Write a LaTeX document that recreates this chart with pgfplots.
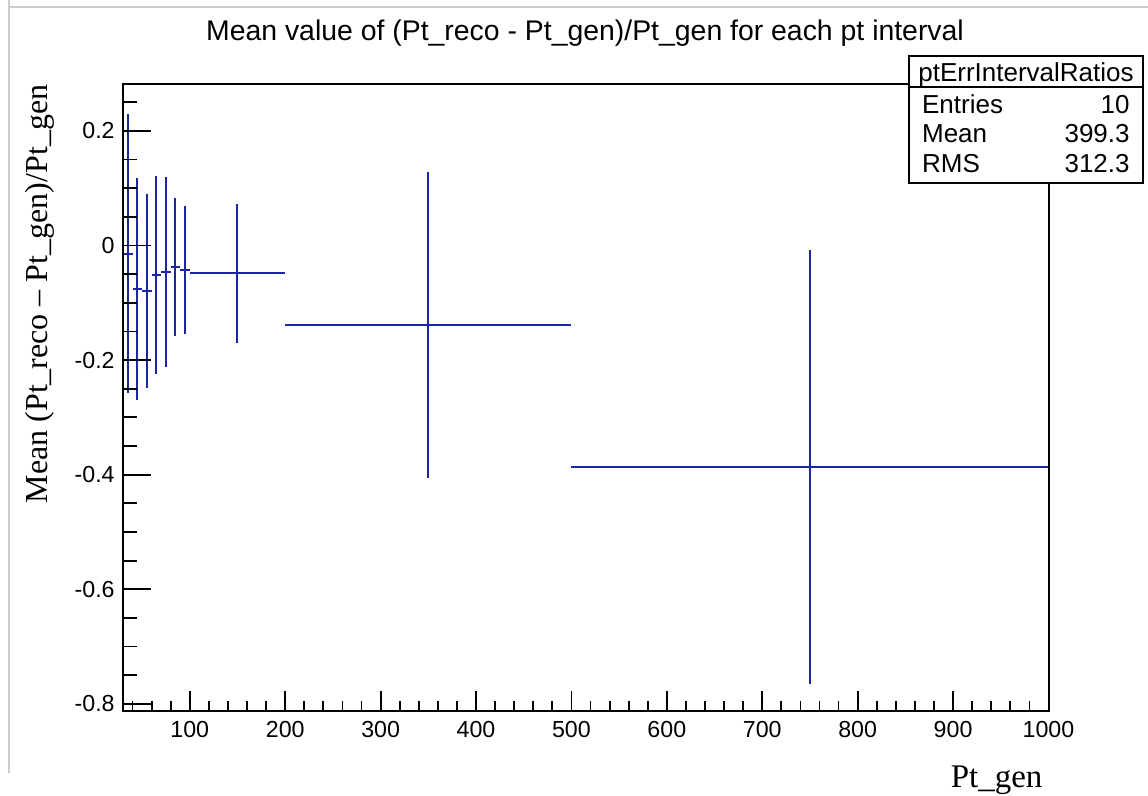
\documentclass[border=0pt]{standalone}
\usepackage{fontspec}
\setmainfont{Liberation Sans}
\newfontfamily\labelfont{Liberation Serif}
\usepackage{pgfplots}
\pgfplotsset{compat=1.18}
\usepackage{pgfplotstable}
\definecolor{rootblue}{RGB}{28,38,160}

\pgfplotstableread{
x ex y ey
35 5 -0.014 0.244
45 5 -0.076 0.193
55 5 -0.079 0.169
65 5 -0.052 0.173
75 5 -0.046 0.166
85 5 -0.0375 0.121
95 5 -0.043 0.112
150 50 -0.0485 0.121
350 150 -0.139 0.267
750 250 -0.386 0.379
}\datatable

\pgfplotsset{
  rootaxis/.style={
    at={(61.5bp,42.15bp)}, anchor=south west,
    scale only axis, width=462.75bp, height=313.6bp,
    xmin=30, xmax=1000, ymin=-0.8119, ymax=0.2827,
    axis line style={line width=1bp, black},
    every tick/.style={black, line width=0.9bp},
    tick align=inside,
    xtick pos=bottom, ytick pos=left,
    clip=false,
  }
}

\begin{document}
\begin{tikzpicture}[x=1bp,y=1bp]
\useasboundingbox (0,0) rectangle (574,397.5);
% canvas border
\draw[black!20, line width=0.6bp] (4.5,397.5) -- (4.5,11);
\draw[black!20, line width=0.6bp] (4.5,394) -- (574,394);

% axis with x ticks and data
\begin{axis}[rootaxis,
  xtick={100,200,...,1000},
  minor xtick={40,60,80,120,140,160,180,220,240,260,280,320,340,360,380,420,440,460,480,520,540,560,580,620,640,660,680,720,740,760,780,820,840,860,880,920,940,960,980},
  xticklabels={100,200,300,400,500,600,700,800,900,1000},
  xticklabel style={font=\fontsize{11.6bp}{13bp}\selectfont, inner sep=0pt, anchor=north, yshift=-5bp},
  ytick=\empty,
  major tick length=10bp, minor tick length=5bp,
]
\addplot[draw=none, no markers,
  error bars/.cd, x dir=both, x explicit, y dir=both, y explicit,
  error mark=none, error bar style={draw=rootblue, line width=1bp, solid}]
  table[x=x, y=y, x error=ex, y error=ey] {\datatable};
\end{axis}

% overlay axis with y ticks
\begin{axis}[rootaxis,
  xtick=\empty,
  ytick={-0.8,-0.6,-0.4,-0.2,0,0.2},
  yticklabels={-0.8,-0.6,-0.4,-0.2,0,0.2},
  minor ytick={-0.75,-0.7,-0.65,-0.55,-0.5,-0.45,-0.35,-0.3,-0.25,-0.15,-0.1,-0.05,0.05,0.1,0.15,0.25},
  yticklabel style={font=\fontsize{11.6bp}{13bp}\selectfont, inner sep=0pt, anchor=east, xshift=-4bp},
  major tick length=14bp, minor tick length=7bp,
]
\end{axis}

% title
\node[anchor=base, inner sep=0pt, font=\fontsize{14.2bp}{16bp}\selectfont] at (292.5,377.5)
  {Mean value of (Pt\_reco - Pt\_gen)/Pt\_gen for each pt interval};

% axis labels
\node[rotate=90, inner sep=0pt, font=\labelfont\fontsize{16bp}{19bp}\selectfont] at (20,250.5)
  {Mean (Pt\_reco – Pt\_gen)/Pt\_gen};
\node[anchor=base east, inner sep=0pt, font=\labelfont\fontsize{16.5bp}{19bp}\selectfont] at (521.4,4)
  {Pt\_gen};

% stats box
\draw[black, line width=0.8bp, fill=white] (454.5,306.15) rectangle (571.5,369.5);
\draw[black, line width=0.8bp] (454.5,354) -- (571.5,354);
\node[anchor=base, inner sep=0pt, font=\fontsize{13bp}{15bp}\selectfont] at (513,356.6) {ptErrIntervalRatios};
\begin{scope}[every node/.style={inner sep=0pt, font=\fontsize{13bp}{15bp}\selectfont}]
\node[anchor=base west] at (460.85,340.85) {Entries};
\node[anchor=base east] at (565,340.85) {10};
\node[anchor=base west] at (460.85,326.15) {Mean};
\node[anchor=base east] at (565,326.15) {399.3};
\node[anchor=base west] at (460.85,311.15) {RMS};
\node[anchor=base east] at (565,311.15) {312.3};
\end{scope}
\end{tikzpicture}
\end{document}
